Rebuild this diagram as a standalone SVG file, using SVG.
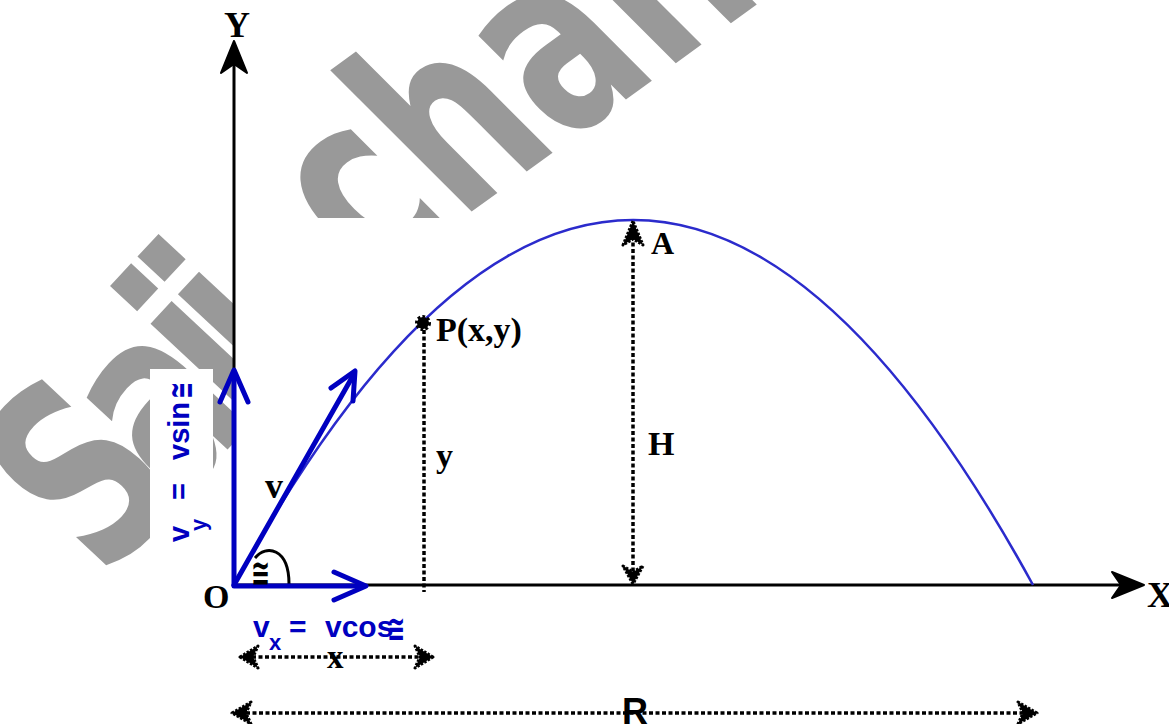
<svg xmlns="http://www.w3.org/2000/svg" width="1169" height="724" viewBox="0 0 1169 724">
<style>
.wm{font-family:"DejaVu Sans","Liberation Sans",sans-serif;font-weight:bold;fill:#999999}
.lbl{font-family:"Liberation Serif","Times New Roman",serif;font-weight:bold;fill:#000}
.blu{font-family:"Liberation Sans",Arial,"DejaVu Sans",sans-serif;font-weight:bold;fill:#0000c0}
.sym{font-family:"DejaVu Sans",sans-serif;font-weight:bold}
.axis{stroke:#000;stroke-width:3;fill:none}
.vec{stroke:#0000c0;stroke-width:5;fill:none;stroke-linecap:round;stroke-linejoin:round}
.dot{stroke:#000;stroke-width:3.5;fill:none;stroke-dasharray:4 2.5}
.fz{fill:#000;stroke:#000;stroke-width:3;stroke-dasharray:2.5 1.5;stroke-linejoin:round}
</style>
<rect width="1169" height="724" fill="#fff"/>
<g id="watermark">
<text class="wm" font-size="260" letter-spacing="-30" transform="translate(104,582) rotate(-47) scale(0.68,1)">Saji</text>
<text class="wm" font-size="260" transform="translate(372,284) rotate(-36) skewX(9) scale(0.7,1)">chan</text>
<rect x="235" y="218" width="934" height="506" fill="#fff"/>
<rect x="150" y="369" width="63" height="178" fill="#fff"/>
</g>
<g id="connectors">
<line class="axis" x1="234" y1="586" x2="234" y2="60"/>
<path d="M234,41 L221,73 L234,64 L247,73 Z" fill="#000" stroke="#000" stroke-width="2" stroke-linejoin="round"/>
<line class="axis" x1="234" y1="585" x2="1125" y2="585"/>
<path d="M1144,585 L1112,572 L1121,585 L1112,598 Z" fill="#000" stroke="#000" stroke-width="2" stroke-linejoin="round"/>
<path d="M234,585 Q633,-145 1033,585" fill="none" stroke="#2b2bcc" stroke-width="2.5"/>
<line class="dot" x1="424" y1="330" x2="424" y2="592"/>
<line class="dot" x1="633" y1="236" x2="633" y2="572"/>
<path class="fz" d="M633,221 L623,245 L633,239 L643,245 Z"/>
<path class="fz" d="M633,584 L623,566 L633,572 L643,566 Z"/>
<line class="dot" x1="252" y1="657" x2="422" y2="657"/>
<path class="fz" d="M240,657 L258,646 L253,657 L258,668 Z"/>
<path class="fz" d="M433,657 L415,646 L420,657 L415,668 Z"/>
<line class="dot" x1="246" y1="713" x2="1024" y2="713"/>
<path class="fz" d="M232,713 L251,702 L246,713 L251,724 Z"/>
<path class="fz" d="M1037,713 L1018,702 L1023,713 L1018,724 Z"/>
<path d="M255,558 C266,544 289,548 289,584" fill="none" stroke="#000" stroke-width="3"/>
<line class="vec" x1="234" y1="585" x2="234" y2="373"/>
<path class="vec" d="M220,402 L234,370 L248,402"/>
<line class="vec" x1="234" y1="586" x2="364" y2="586"/>
<path class="vec" d="M334,572 L366,586 L334,600"/>
<line class="vec" x1="234" y1="585" x2="354" y2="374"/>
<path class="vec" d="M331,388 L355,371 L353,401"/>
</g>
<g id="P">
<circle cx="423" cy="323" r="6" fill="#000" stroke="#000" stroke-width="4" stroke-dasharray="2.5 2"/>
<text class="lbl" x="436" y="341" font-size="34">P(x,y)</text>
</g>
<g id="A"><text class="lbl" x="651" y="254" font-size="32">A</text></g>
<g id="H"><text class="lbl" x="648" y="455" font-size="34">H</text></g>
<g id="O"><text class="lbl" x="203" y="608" font-size="34">O</text></g>
<g id="Ylabel"><text class="lbl" x="237" y="37" font-size="36" text-anchor="middle">Y</text></g>
<g id="Xlabel"><text class="lbl" x="1147" y="607" font-size="36">X</text></g>
<g id="vlabel"><text class="lbl" x="265" y="498" font-size="36">v</text></g>
<g id="ylabel"><text class="lbl" x="436" y="467" font-size="34">y</text></g>
<g id="xdim"><text class="lbl" x="327" y="668" font-size="33">x</text></g>
<g id="Rdim"><text x="622" y="724" font-size="36" style="font-family:'Liberation Sans',Arial,sans-serif;font-weight:bold">R</text></g>
<g id="theta"><text class="sym" font-size="38" transform="translate(251,586) scale(0.6,1)">≅</text></g>
<g id="vx">
<text class="blu" x="253" y="637" font-size="30">v</text>
<text class="blu" x="269" y="650" font-size="22">x</text>
<text class="blu" x="289" y="637" font-size="30">=</text>
<text class="blu" x="325" y="637" font-size="30">vcos</text>
<text class="sym" fill="#0000c0" font-size="36" transform="translate(387,641) scale(0.6,1)">≅</text>
</g>
<g id="vy" transform="translate(189,544) rotate(-90)">
<text class="blu" x="2" y="0" font-size="29">v</text>
<text class="blu" x="13" y="17" font-size="22">y</text>
<text class="blu" x="44" y="0" font-size="29">=</text>
<text class="blu" x="84" y="0" font-size="29">vsin</text>
<text class="sym" fill="#0000c0" font-size="34" transform="translate(145,4) scale(0.6,1)">≅</text>
</g>
</svg>
